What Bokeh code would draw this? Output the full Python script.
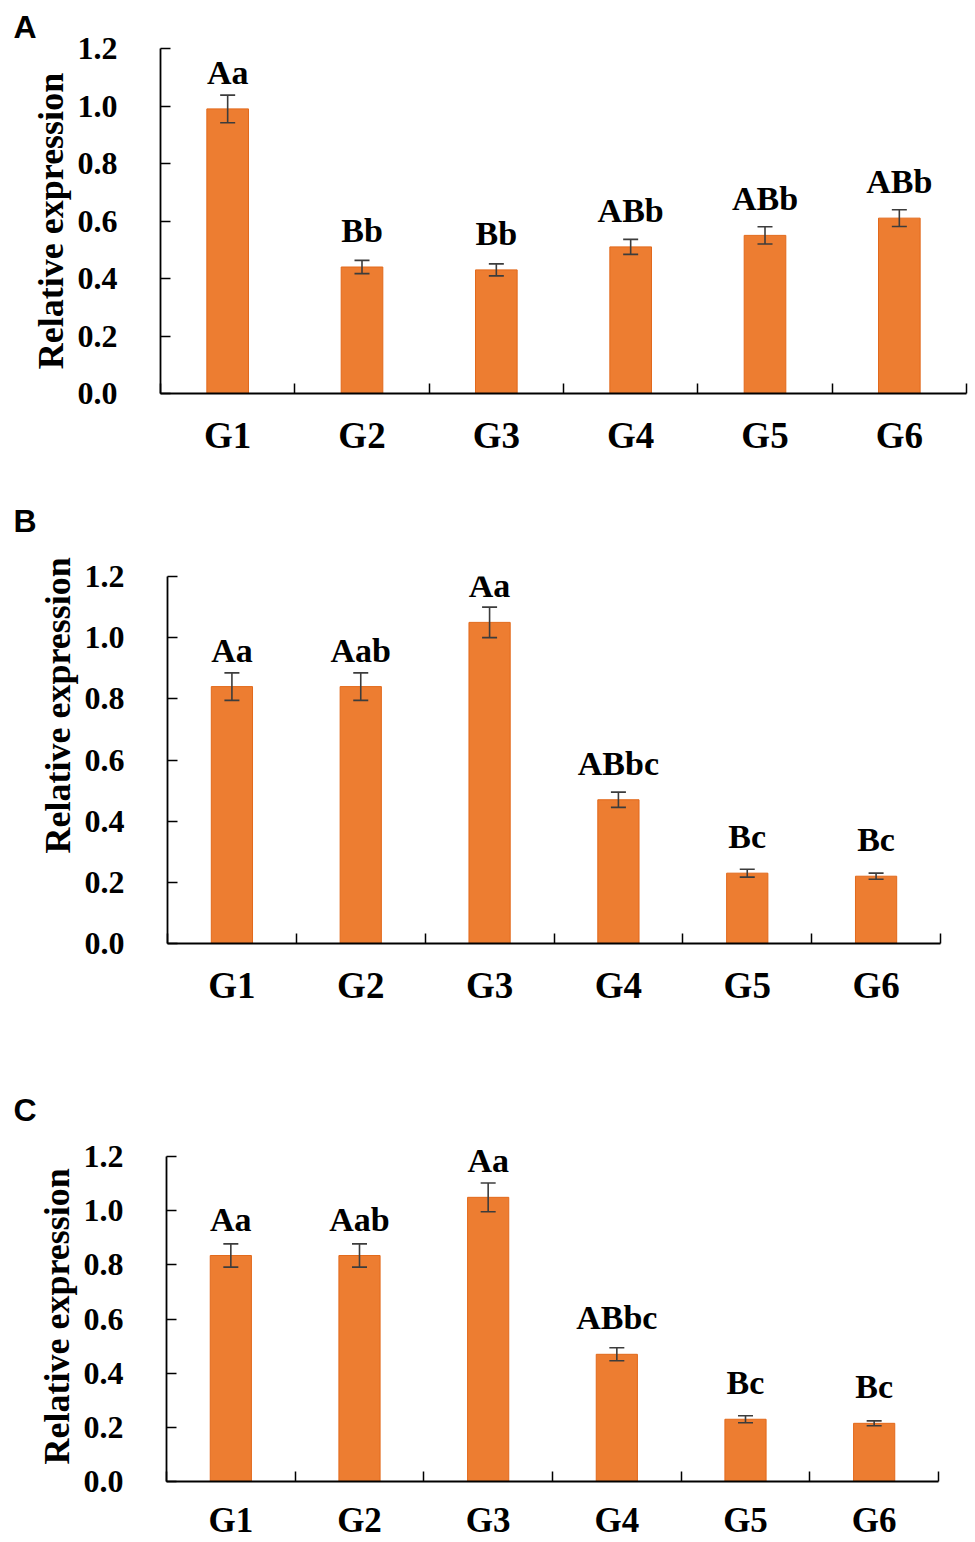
from bokeh.plotting import figure
from bokeh.models import (ColumnDataSource, Range1d, FixedTicker, NumeralTickFormatter,
                          Whisker, TeeHead, Title, LabelSet)
from bokeh.layouts import column, row
from bokeh.embed import file_html
from bokeh.resources import INLINE

# ---------------- data ----------------
categories = ["G1", "G2", "G3", "G4", "G5", "G6"]
y_ticks = [0.0, 0.2, 0.4, 0.6, 0.8, 1.0, 1.2]

a_values = [0.99, 0.44, 0.43, 0.51, 0.55, 0.61]
a_errors = [0.048, 0.023, 0.021, 0.026, 0.030, 0.029]
a_letters = ["Aa", "Bb", "Bb", "ABb", "ABb", "ABb"]

b_values = [0.84, 0.84, 1.05, 0.47, 0.23, 0.22]
b_errors = [0.045, 0.045, 0.050, 0.025, 0.013, 0.010]
b_letters = ["Aa", "Aab", "Aa", "ABbc", "Bc", "Bc"]

c_values = [0.835, 0.835, 1.05, 0.47, 0.23, 0.215]
c_errors = [0.043, 0.043, 0.053, 0.024, 0.013, 0.009]
c_letters = ["Aa", "Aab", "Aa", "ABbc", "Bc", "Bc"]

BAR = "#ED7D31"
BAR_EDGE = "#E2691B"
ERR = "#3c3c3c"
SERIF = "Liberation Serif"
FIG_W = 975


def panel(letter, values, errors, letters, height, top, frame_h, left, frame_w,
          title_standoff, ylabel_align, ylabel_offset, bar_width,
          xlabel_size="37px", xlabel_standoff=21, y_end=1.2):
    n = len(categories)
    centers = [i + 0.5 for i in range(n)]
    bounds = [float(i) for i in range(n + 1)]
    src = ColumnDataSource(dict(
        x=centers, top=values,
        upper=[v + e for v, e in zip(values, errors)],
        lower=[v - e for v, e in zip(values, errors)],
        lab=letters,
    ))
    right = FIG_W - left - frame_w
    bottom = height - top - frame_h
    p = figure(width=FIG_W, height=height, x_range=Range1d(0, n),
               y_range=Range1d(0, y_end),
               output_backend="svg", toolbar_location=None,
               min_border_left=left, min_border_right=right,
               min_border_top=top, min_border_bottom=bottom)
    p.outline_line_color = None
    p.xgrid.visible = False
    p.ygrid.visible = False
    p.background_fill_color = "white"
    p.border_fill_color = "white"

    # panel letter
    p.title = Title(text=letter, align="left", offset=-(left - 13),
                    text_font="Liberation Sans", text_font_style="bold",
                    text_font_size="32px", text_color="black",
                    standoff=title_standoff)

    p.vbar(x="x", top="top", bottom=0, width=bar_width, source=src,
           fill_color=BAR, line_color=BAR_EDGE, line_width=1)

    w = Whisker(source=src, base="x", upper="upper", lower="lower",
                line_color=ERR, line_width=1.6, level="annotation",
                upper_head=TeeHead(size=15, line_color=ERR, line_width=1.6),
                lower_head=TeeHead(size=15, line_color=ERR, line_width=1.6))
    p.add_layout(w)

    labels = LabelSet(x="x", y="top", text="lab", source=src, y_offset=25,
                      text_align="center", text_baseline="alphabetic",
                      text_font=SERIF, text_font_style="bold", text_font_size="34px",
                      text_color="black")
    p.add_layout(labels)

    # x axis: labels at centres, ticks at category boundaries (pointing inward)
    xa = p.xaxis[0]
    xa.ticker = FixedTicker(ticks=centers, minor_ticks=bounds)
    xa.major_label_overrides = {c: name for c, name in zip(centers, categories)}
    xa.major_tick_in = 0
    xa.major_tick_out = 0
    xa.minor_tick_in = 10
    xa.minor_tick_out = 0
    xa.minor_tick_line_color = "black"
    xa.minor_tick_line_width = 1.5
    xa.axis_line_width = 1.8
    xa.axis_line_color = "black"
    xa.major_label_standoff = xlabel_standoff
    xa.major_label_text_font = SERIF
    xa.major_label_text_font_style = "bold"
    xa.major_label_text_font_size = xlabel_size
    xa.major_label_text_color = "black"

    ya = p.yaxis[0]
    ya.ticker = FixedTicker(ticks=y_ticks)
    ya.bounds = (y_ticks[0], y_ticks[-1])
    ya.formatter = NumeralTickFormatter(format="0.0")
    ya.major_tick_in = 10
    ya.major_tick_out = 0
    ya.minor_tick_line_color = None
    ya.major_tick_line_width = 1.5
    ya.major_tick_line_color = "black"
    ya.axis_line_width = 1.8
    ya.axis_line_color = "black"
    ya.major_label_standoff = 43
    ya.major_label_text_font = SERIF
    ya.major_label_text_font_style = "bold"
    ya.major_label_text_font_size = "32px"
    ya.major_label_text_color = "black"

    p.add_layout(Title(text="Relative expression", align=ylabel_align, offset=ylabel_offset,
                       text_font=SERIF, text_font_style="bold", text_font_size="36px",
                       text_color="black", standoff=8), "left")
    return p


pA = panel("A", a_values, a_errors, a_letters, height=463, top=48, frame_h=345,
           left=160, frame_w=806, title_standoff=7, ylabel_align="center", ylabel_offset=0,
           bar_width=0.31)
pB = panel("B", b_values, b_errors, b_letters, height=599, top=112, frame_h=368,
           left=167, frame_w=773, title_standoff=75, ylabel_align="left", ylabel_offset=90,
           bar_width=0.32)
pC = panel("C", c_values, c_errors, c_letters, height=480, top=78, frame_h=342,
           left=166, frame_w=772, title_standoff=25, ylabel_align="left", ylabel_offset=17,
           bar_width=0.32, xlabel_size="35px", xlabel_standoff=19, y_end=1.26)

layout = column(row(pA), row(pB), row(pC), spacing=0)

with open("out.html", "w") as f:
    f.write(file_html(layout, INLINE))
